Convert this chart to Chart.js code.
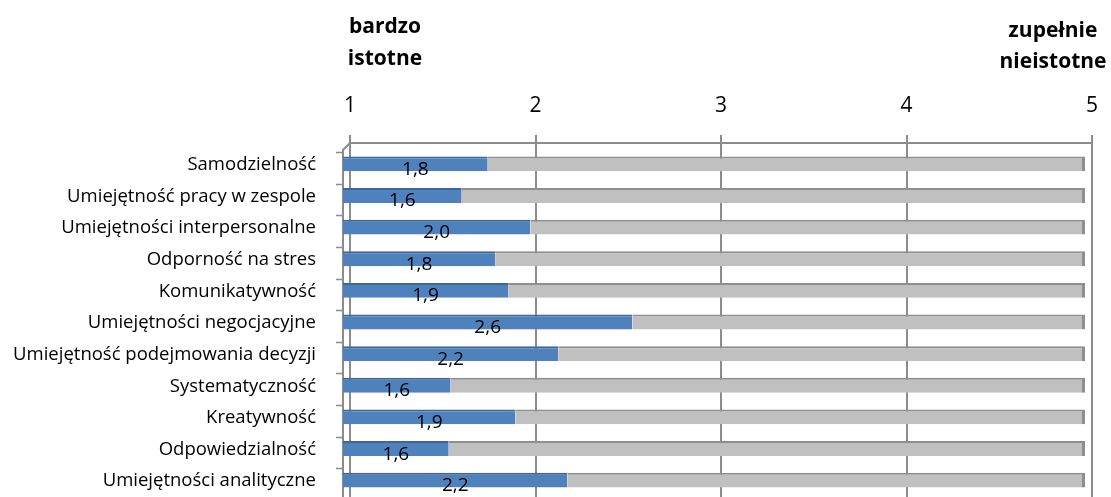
<!DOCTYPE html>
<html lang="pl">
<head>
<meta charset="utf-8">
<title>Istotność kompetencji</title>
<script src="https://cdn.jsdelivr.net/npm/chart.js@4.4.1/dist/chart.umd.min.js"></script>
<style>
  html, body { margin: 0; padding: 0; background: #fff; overflow: hidden; }
  #wrap { position: relative; width: 1111px; height: 497px; }
</style>
</head>
<body>
<div id="wrap"><canvas id="chart" width="1111" height="497"></canvas></div>
<script>
// --- data ---
const categories = [
  'Samodzielność',
  'Umiejętność pracy w zespole',
  'Umiejętności interpersonalne',
  'Odporność na stres',
  'Komunikatywność',
  'Umiejętności negocjacyjne',
  'Umiejętność podejmowania decyzji',
  'Systematyczność',
  'Kreatywność',
  'Odpowiedzialność',
  'Umiejętności analityczne'
];
const scores = [1.78, 1.64, 2.01, 1.82, 1.89, 2.56, 2.16, 1.58, 1.93, 1.57, 2.21];
const scaleMin = 1;
const scaleMax = 5;
const tickValues = [1, 2, 3, 4, 5];
const leftEndLabel = ['bardzo', 'istotne'];
const rightEndLabel = ['zupełnie', 'nieistotne'];

const FONT = "'Open Sans', 'DejaVu Sans', sans-serif";
const GRID = '#8c8c8c';
// the bars sit on the front plane, the scale/gridlines on the back wall
const FRONT_DX = -7, FRONT_DY = -1;

const fmt = v => v.toFixed(1).replace('.', ',');

// --- 3D-ish walls, end labels, value labels ---
const decorPlugin = {
  id: 'decor',
  beforeDatasetsDraw(chart) {
    const { ctx, chartArea: a, scales: { y } } = chart;
    ctx.save();
    ctx.strokeStyle = GRID;
    ctx.lineWidth = 2;
    // back top edge + slant to the front left wall
    ctx.beginPath();
    ctx.moveTo(a.right, a.top - 6);
    ctx.lineTo(a.left, a.top - 6);
    ctx.lineTo(a.left + FRONT_DX, a.top + 1);
    ctx.lineTo(a.left + FRONT_DX, a.bottom);
    ctx.stroke();
    ctx.beginPath();
    ctx.moveTo(a.right, a.top - 6);
    ctx.lineTo(a.right, a.bottom);
    ctx.stroke();
    // category ticks on the left wall
    const band = (a.bottom - a.top) / categories.length;
    ctx.lineWidth = 1.5;
    ctx.beginPath();
    for (let i = 0; i < categories.length; i++) {
      const yy = Math.round(y.getPixelForValue(i) - band / 2 + 3) + 0.5;
      ctx.moveTo(a.left + FRONT_DX - 7, yy);
      ctx.lineTo(a.left + FRONT_DX, yy);
    }
    ctx.stroke();
    ctx.restore();

    // shift the bars onto the front plane
    ctx.save();
    ctx.translate(FRONT_DX, FRONT_DY);
  },
  afterDatasetsDraw(chart) {
    const { ctx } = chart;
    // value labels, centred in the blue part
    const meta = chart.getDatasetMeta(0);
    ctx.fillStyle = '#000';
    ctx.font = `19px ${FONT}`;
    ctx.textAlign = 'center';
    ctx.textBaseline = 'alphabetic';
    meta.data.forEach((bar, i) => {
      ctx.fillText(fmt(scores[i]), (bar.x + bar.base) / 2, bar.y + 11);
    });
    ctx.restore();

    // end labels above the axis
    const a = chart.chartArea;
    ctx.save();
    ctx.fillStyle = '#000';
    ctx.font = `bold 21px ${FONT}`;
    ctx.textAlign = 'center';
    ctx.textBaseline = 'alphabetic';
    ctx.fillText(leftEndLabel[0], a.left + 35, 33);
    ctx.fillText(leftEndLabel[1], a.left + 35, 65);
    ctx.fillText(rightEndLabel[0], a.right - 39, 37);
    ctx.fillText(rightEndLabel[1], a.right - 39, 68);
    ctx.restore();
  }
};

new Chart(document.getElementById('chart'), {
  type: 'bar',
  data: {
    labels: categories,
    datasets: [
      {
        label: 'ocena',
        data: scores.map(v => [scaleMin, v]),
        backgroundColor: '#4f81bd',
        borderColor: '#3d679b',
        borderWidth: { top: 2, right: 0, bottom: 0, left: 0 },
        borderSkipped: false,
        barPercentage: 0.47,
        categoryPercentage: 1
      },
      {
        label: 'reszta',
        data: scores.map(v => [v, scaleMax]),
        backgroundColor: '#c0c0c0',
        borderColor: '#8e8e8e',
        borderWidth: { top: 2, right: 3, bottom: 0, left: 0 },
        borderSkipped: false,
        barPercentage: 0.47,
        categoryPercentage: 1
      }
    ]
  },
  options: {
    indexAxis: 'y',
    responsive: false,
    animation: false,
    layout: { padding: { top: 0, right: 19, bottom: 0, left: 0 } },
    plugins: {
      legend: { display: false },
      tooltip: { enabled: false },
      title: { display: false }
    },
    scales: {
      x: {
        position: 'top',
        min: scaleMin,
        max: scaleMax,
        afterBuildTicks: s => { s.ticks = tickValues.map(v => ({ value: v })); },
        afterFit: s => { s.height = 149; s.paddingLeft = 0; s.paddingRight = 0; },
        grid: { color: GRID, lineWidth: 2, drawTicks: true, tickLength: 14, tickColor: GRID },
        border: { display: false },
        ticks: {
          color: '#000',
          font: { family: FONT, size: 21 },
          padding: 16,
          maxRotation: 0
        }
      },
      y: {
        stacked: true,
        afterFit: s => { s.width = 350; s.paddingTop = 0; s.paddingBottom = 0; },
        grid: { display: false },
        border: { display: false },
        ticks: {
          color: '#000',
          font: { family: FONT, size: 18.5 },
          padding: 26,
          autoSkip: false
        }
      }
    }
  },
  plugins: [decorPlugin]
});
</script>
</body>
</html>
